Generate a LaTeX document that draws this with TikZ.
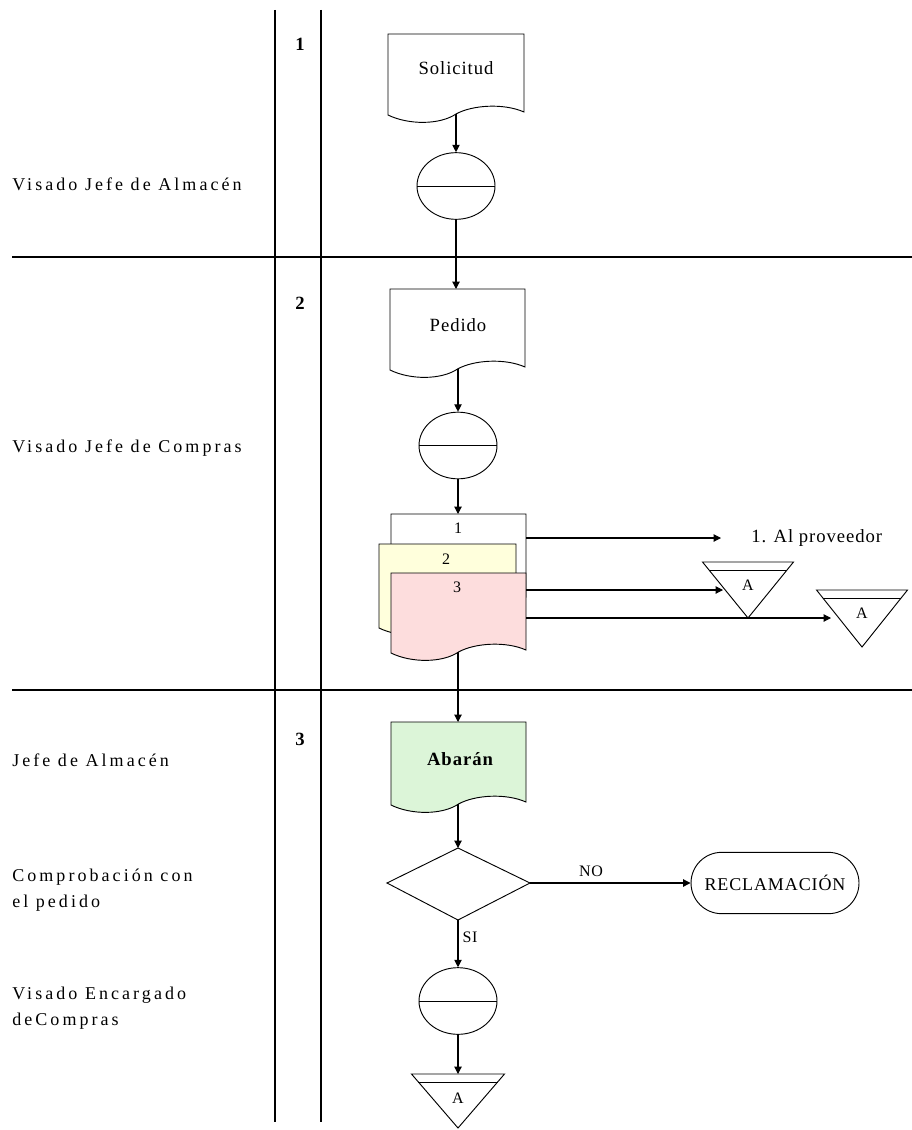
\documentclass[tikz,border=0pt]{standalone}
\usepackage{fontspec}
\setmainfont{Liberation Serif}
\newfontfamily\lblf[LetterSpace=17]{Liberation Serif}
\newfontfamily\dgf[LetterSpace=5]{Liberation Serif}
\usetikzlibrary{arrows.meta,shapes.geometric,shapes.misc}
\definecolor{docyellow}{HTML}{FFFFDC}
\definecolor{docpink}{HTML}{FDDDDD}
\definecolor{docgreen}{HTML}{DCF5D8}
% document shape: fill, L, T, R, B
\newcommand{\docpath}[5]{%
  \filldraw[shp,fill=#1] (#2,#3) -- (#4,#3) -- (#4,#5-3)
    .. controls ({#4-0.15*(#4-#2)},{#5-12}) and ({#2+0.62*(#4-#2)},{#5-10}) .. ({#2+0.5*(#4-#2)},{#5-1})
    .. controls ({#2+0.38*(#4-#2)},{#5+10}) and ({#2+0.15*(#4-#2)},{#5+10}) .. (#2,#5) -- cycle;}
% inverted triangle: cx, top, halfwidth, height
\newcommand{\invtri}[4]{%
  \draw[shp] ({#1-#3},#2) -- ({#1+#3},#2) -- (#1,{#2+#4}) -- cycle;
  \draw[shp] ({#1-#3*(1-8/#4)},{#2+8}) -- ({#1+#3*(1-8/#4)},{#2+8});}
\begin{document}
\begin{tikzpicture}[x=0.75pt,y=-0.75pt,
  shp/.style={draw=black,line width=0.7pt},
  rule/.style={draw=black,line width=0.9pt},
  arr/.style={draw=black,line width=0.8pt,-{Triangle[length=5.5pt,width=5.5pt]}},
  lbl/.style={font=\lblf\fontsize{13.5}{19.5}\selectfont,anchor=west,inner sep=0pt,align=left},
  num/.style={font=\bfseries\fontsize{14}{16}\selectfont,inner sep=0pt},
  dtxt/.style={font=\dgf\fontsize{14}{16}\selectfont,inner sep=0pt},
  small/.style={font=\dgf\fontsize{12}{14}\selectfont,inner sep=0pt},
  circ/.style={ellipse,draw=black,line width=0.7pt,fill=white,minimum width=58.5pt,minimum height=50pt,inner sep=0pt}]
\useasboundingbox (0,0) rectangle (912,1130);
\fill[white] (0,0) rectangle (912,1130);

% swimlane rules
\draw[rule] (275,10) -- (275,1122);
\draw[rule] (321,10) -- (321,1122);
\draw[rule] (12,257) -- (912,257);
\draw[rule] (12,690) -- (912,690);

% lane numbers
\node[num] (n1) at (300,44) {1};
\node[num] (n2) at (300,303) {2};
\node[num] (n3) at (300,739) {3};

% left labels
\node[lbl] (l1) at (12,184) {Visado Jefe de Almacén};
\node[lbl] (l2) at (12,448) {Visado Jefe de Compras};
\node[lbl] (l3) at (12,760) {Jefe de Almacén};
\node[lbl] (l4) at (12,890) {Comprobación con\\el pedido};
\node[lbl] (l5) at (12,1008) {Visado Encargado\\deCompras};

% Solicitud
\docpath{white}{388}{34}{524}{115}
\node[dtxt] (sol) at (456,68) {Solicitud};
\coordinate (solB) at (456,114);
\node[circ] (c1) at (456,186) {};
\draw[shp] (c1.west) -- (c1.east);
\draw[arr] (solB) -- (c1.north);

% Pedido
\docpath{white}{390}{289}{525}{370}
\node[dtxt] (ped) at (458,325) {Pedido};
\coordinate (pedT) at (456,289);
\coordinate (pedB) at (458,369);
\draw[arr] (c1.south) -- (pedT);
\node[circ] (c2) at (458,445.5) {};
\draw[shp] (c2.west) -- (c2.east);
\draw[arr] (pedB) -- (c2.north);

% copies stack
\docpath{white}{391}{514}{526}{600}
\docpath{docyellow}{379}{544}{516}{628}
\docpath{docpink}{391}{573}{526}{653}
\node[small] (d1) at (458,528) {1};
\node[small] (d2) at (446,559) {2};
\node[small] (d3) at (457,587) {3};
\coordinate (stT) at (458,514);
\coordinate (stB) at (458,652);
\draw[arr] (c2.south) -- (stT);

% outputs of copies
\coordinate (o1) at (526,538);
\coordinate (o1e) at (721,538);
\node[dtxt,anchor=west] (prov) at (751,538) {1. Al proveedor};
\draw[arr] (o1) -- (o1e);

\invtri{748}{562}{45.5}{56}
\node[small] (ta1) at (748,585) {A};
\coordinate (o3) at (526,590);
\coordinate (t1in) at (723,590);
\draw[arr] (o3) -- (t1in);

\invtri{862}{590}{45.5}{57}
\node[small] (ta2) at (862,613) {A};
\coordinate (o4) at (526,618);
\coordinate (t2in) at (831,618);
\draw[arr] (o4) -- (t2in);

% Abaran
\docpath{docgreen}{391}{722}{526}{805}
\node[dtxt,font=\dgf\bfseries\fontsize{14}{16}\selectfont] (aba) at (460,759) {Abarán};
\coordinate (abaT) at (458,722);
\coordinate (abaB) at (458,804);
\draw[arr] (stB) -- (abaT);

% decision
\coordinate (dT) at (458,848);
\coordinate (dL) at (387,883);
\coordinate (dR) at (530,883);
\coordinate (dB) at (458,920);
\draw[shp] (dT) -- (dR) -- (dB) -- (dL) -- cycle;
\draw[arr] (abaB) -- (dT);

\node[rounded rectangle,draw=black,line width=0.7pt,minimum width=130pt,minimum height=46pt,inner sep=2pt,font=\dgf\fontsize{13.5}{15}\selectfont] (rec) at (775,883) {RECLAMACIÓN};
\draw[arr] (dR) -- (rec.west) node[small,pos=0.38,above=4pt] {NO};

\node[circ] (c3) at (458,1001) {};
\draw[shp] (c3.west) -- (c3.east);
\draw[arr] (dB) -- (c3.north) node[small,pos=0.37,right=3pt] {SI};

\invtri{458}{1074}{46.5}{54}
\node[small] (ta3) at (458,1098) {A};
\coordinate (t3T) at (458,1074);
\draw[arr] (c3.south) -- (t3T);
\end{tikzpicture}
\end{document}
